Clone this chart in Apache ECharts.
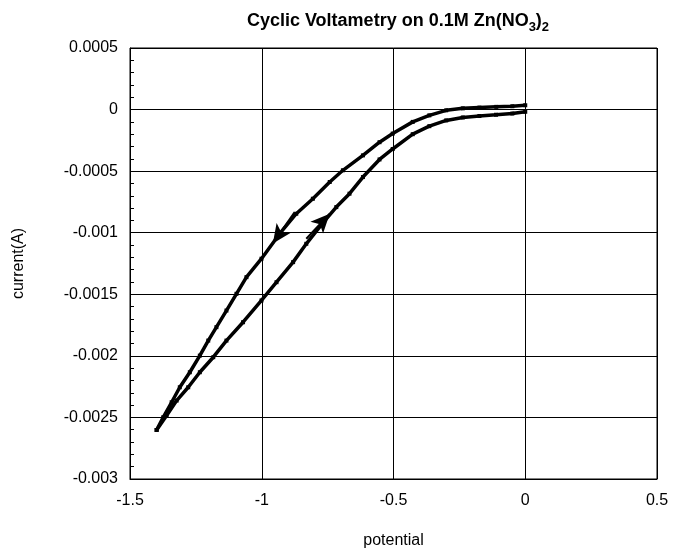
<!DOCTYPE html>
<html>
<head>
<meta charset="utf-8">
<script src="https://cdn.jsdelivr.net/npm/echarts@6/dist/echarts.min.js"></script>
<style>
  html, body { margin: 0; padding: 0; background: #fff; }
  #chart { width: 673px; height: 552px; }
</style>
</head>
<body>
<div id="chart"></div>
<script>
// forward scan: 0 V down to -1.4 V (upper branch)
const potentialForward = [0, -0.049, -0.11, -0.174, -0.237, -0.30, -0.364, -0.427, -0.503, -0.553, -0.616, -0.692, -0.742, -0.806, -0.869, -0.932, -1.001, -1.058, -1.096, -1.134, -1.172, -1.203, -1.235, -1.273, -1.311, -1.342, -1.374, -1.399]
const currentForward = [0.000035, 0.000027, 0.000022, 0.000016, 0.00001, -0.000006, -0.000047, -0.0001, -0.000195, -0.000265, -0.000372, -0.000493, -0.000588, -0.000724, -0.000846, -0.001008, -0.001211, -0.001361, -0.001496, -0.001632, -0.001767, -0.001876, -0.001998, -0.002133, -0.002255, -0.002377, -0.002499, -0.002602]

// reverse scan: -1.4 V back to 0 V (lower branch)
const potentialReverse = [-1.399, -1.361, -1.323, -1.279, -1.235, -1.184, -1.134, -1.071, -1.001, -0.944, -0.881, -0.831, -0.768, -0.717, -0.667, -0.616, -0.553, -0.503, -0.427, -0.364, -0.30, -0.237, -0.174, -0.111, -0.049, 0]
const currentReverse = [-0.002602, -0.002485, -0.002363, -0.002255, -0.002133, -0.002011, -0.001876, -0.001727, -0.00155, -0.001402, -0.001239, -0.00109, -0.00092, -0.000792, -0.000683, -0.000548, -0.000405, -0.00032, -0.0002, -0.000135, -0.000088, -0.000064, -0.000052, -0.000042, -0.000032, -0.000018]

// direction arrows [tailX, tailY, tipX, tipY]
const arrowForward = [-0.875, -0.000833, -0.958, -0.001087]
const arrowReverse = [-0.831, -0.001049, -0.742, -0.000846]

const xTicks = [-1.5, -1, -0.5, 0, 0.5]

function zip(xs, ys) {
  return xs.map((x, i) => [x, ys[i]])
}

const chart = echarts.init(document.getElementById('chart'))
const fontFamily = '"Liberation Sans", Arial, sans-serif'

chart.setOption({
  animation: false,
  textStyle: { fontFamily: fontFamily },
  title: {
    text: '{t|Cyclic Voltametry on 0.1M Zn(NO}{s|3}{t|)}{s|2}',
    left: 393,
    top: 7,
    textAlign: 'center',
    textStyle: {
      rich: {
        t: { fontSize: 18, fontWeight: 'bold', color: '#000', fontFamily: fontFamily, lineHeight: 14, verticalAlign: 'top' },
        s: { fontSize: 13, fontWeight: 'bold', color: '#000', fontFamily: fontFamily, lineHeight: 22, verticalAlign: 'bottom' }
      }
    }
  },
  grid: {
    left: 130,
    right: 16,
    top: 48,
    bottom: 73,
    outerBoundsMode: 'none',
    show: true,
    borderColor: '#000',
    borderWidth: 1
  },
  xAxis: {
    type: 'value',
    min: xTicks[0],
    max: xTicks[xTicks.length - 1],
    interval: 0.5,
    name: 'potential',
    nameLocation: 'middle',
    nameGap: 54,
    nameTextStyle: { fontSize: 16, color: '#000' },
    axisLine: { show: true, onZero: false, lineStyle: { color: '#000' } },
    axisTick: { show: false },
    axisLabel: { fontSize: 16, color: '#000', margin: 14 },
    splitLine: { show: true, lineStyle: { color: '#000', width: 1 } }
  },
  yAxis: {
    type: 'value',
    min: -0.003,
    max: 0.0005,
    interval: 0.0005,
    name: 'current(A)',
    nameLocation: 'middle',
    nameGap: 103,
    nameRotate: 90,
    nameTextStyle: { fontSize: 16, color: '#000' },
    axisLine: { show: true, onZero: false, lineStyle: { color: '#000' } },
    axisTick: { show: true, inside: true, length: 4, lineStyle: { color: '#000' } },
    minorTick: { show: true, splitNumber: 5, length: 4, lineStyle: { color: '#000' } },
    axisLabel: { fontSize: 16, color: '#000', margin: 12 },
    splitLine: { show: true, lineStyle: { color: '#000', width: 1 } }
  },
  series: [
    {
      name: 'forward',
      type: 'line',
      data: zip(potentialForward, currentForward),
      symbol: 'rect',
      symbolSize: 4,
      showSymbol: true,
      itemStyle: { color: '#000' },
      lineStyle: { color: '#000', width: 3.5 }
    },
    {
      name: 'reverse',
      type: 'line',
      data: zip(potentialReverse, currentReverse),
      symbol: 'rect',
      symbolSize: 4,
      showSymbol: true,
      itemStyle: { color: '#000' },
      lineStyle: { color: '#000', width: 3.5 },
      markLine: {
        silent: true,
        symbol: ['none', 'arrow'],
        symbolSize: [13, 19],
        label: { show: false },
        lineStyle: { color: '#000', width: 2, type: 'solid' },
        data: [
          [{ coord: [arrowForward[0], arrowForward[1]] }, { coord: [arrowForward[2], arrowForward[3]] }],
          [{ coord: [arrowReverse[0], arrowReverse[1]] }, { coord: [arrowReverse[2], arrowReverse[3]] }]
        ]
      }
    }
  ]
})
</script>
</body>
</html>
